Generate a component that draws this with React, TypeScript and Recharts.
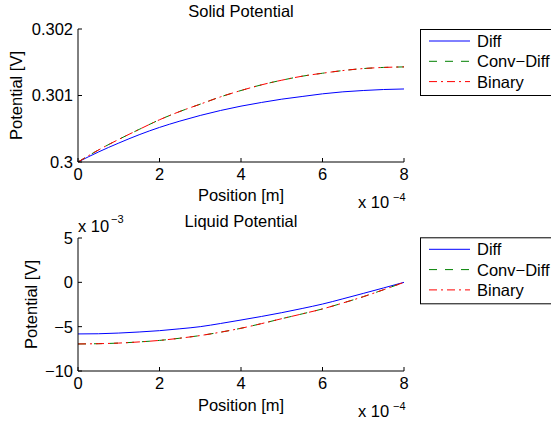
import React from "react";
import { LineChart, Line, XAxis, YAxis } from "recharts";

// position, in units of 1e-4 m
const positions = [0, 0.5, 1, 1.5, 2, 2.5, 3, 3.5, 4, 4.5, 5, 5.5, 6, 6.5, 7, 7.5, 8];

// solid potential [V]
const solidDiff = [
  0.3, 0.30015, 0.300285, 0.30041, 0.30052, 0.300615, 0.3007, 0.300775, 0.30084,
  0.300895, 0.300945, 0.300985, 0.301025, 0.301055, 0.301075, 0.30109, 0.301098,
];
const solidConvDiff = [
  0.3, 0.30018, 0.30034, 0.30049, 0.300635, 0.30076, 0.30087, 0.30098, 0.301075,
  0.30116, 0.30123, 0.30129, 0.301335, 0.301375, 0.301405, 0.301422, 0.30143,
];
const solidBinary = [
  0.3, 0.30018, 0.30034, 0.30049, 0.300635, 0.30076, 0.30087, 0.30098, 0.301075,
  0.30116, 0.30123, 0.30129, 0.301335, 0.301375, 0.301405, 0.301422, 0.30143,
];

// liquid potential, in units of 1e-3 V
const liquidDiff = [
  -5.82, -5.8, -5.72, -5.6, -5.45, -5.24, -5.0, -4.64, -4.25,
  -3.85, -3.42, -2.95, -2.45, -1.86, -1.25, -0.63, 0,
];
const liquidConvDiff = [
  -6.95, -6.92, -6.85, -6.72, -6.55, -6.3, -6.0, -5.62, -5.18,
  -4.66, -4.1, -3.56, -3.0, -2.33, -1.62, -0.83, 0,
];
const liquidBinary = [
  -6.95, -6.92, -6.85, -6.72, -6.55, -6.3, -6.0, -5.62, -5.18,
  -4.66, -4.1, -3.56, -3.0, -2.33, -1.62, -0.83, 0,
];

const xTicks = [0, 2, 4, 6, 8];
const solidTicks = [0.3, 0.301, 0.302];
const liquidTicks = [-10, -5, 0, 5];

const seriesNames = ["Diff", "Conv\u2212Diff", "Binary"];
const seriesColors = ["#0000ff", "#008000", "#ff0000"];
const seriesDash = [undefined, "8 8", "8 4 2 4"];

const FONT = '"Liberation Sans", Arial, Helvetica, sans-serif';
const FS = 16.5;

const solidData = positions.map((x, i) => ({
  x,
  diff: solidDiff[i],
  conv: solidConvDiff[i],
  binary: solidBinary[i],
}));
const liquidData = positions.map((x, i) => ({
  x,
  diff: liquidDiff[i],
  conv: liquidConvDiff[i],
  binary: liquidBinary[i],
}));

const minus = (v: number) => String(v).replace("-", "\u2212");

const tickStyle = { fill: "#000", fontSize: FS, fontFamily: FONT };

function Panel({
  data,
  yDomain,
  yTicks,
  top,
}: {
  data: any[];
  yDomain: [number, number];
  yTicks: number[];
  top: number;
}) {
  return (
    <div style={{ position: "absolute", left: 0, top }}>
      <LineChart
        width={551}
        height={211}
        data={data}
        margin={{ top: 29, right: 147, bottom: 0, left: 0 }}
      >
        <XAxis
          dataKey="x"
          type="number"
          domain={[0, 8]}
          ticks={xTicks}
          height={49}
          tickSize={-4}
          tickMargin={10}
          tick={tickStyle}
          stroke="#000"
          tickLine={{ stroke: "#000" }}
        />
        <XAxis
          xAxisId="top"
          orientation="top"
          dataKey="x"
          type="number"
          domain={[0, 8]}
          ticks={xTicks}
          height={0}
          tickSize={-4}
          tick={false}
          stroke="#000"
          tickLine={{ stroke: "#000" }}
        />
        <YAxis
          type="number"
          domain={yDomain}
          ticks={yTicks}
          width={78}
          tickSize={-4}
          tickMargin={9}
          tick={tickStyle}
          tickFormatter={minus}
          stroke="#000"
          tickLine={{ stroke: "#000" }}
          allowDataOverflow
        />
        <YAxis
          yAxisId="right"
          orientation="right"
          type="number"
          domain={yDomain}
          ticks={yTicks}
          width={0}
          tickSize={-4}
          tick={false}
          stroke="#000"
          tickLine={{ stroke: "#000" }}
        />
        {["diff", "conv", "binary"].map((key, i) => (
          <Line
            key={key}
            dataKey={key}
            type="monotone"
            stroke={seriesColors[i]}
            strokeWidth={1}
            strokeDasharray={seriesDash[i]}
            dot={false}
            isAnimationActive={false}
          />
        ))}
      </LineChart>
    </div>
  );
}

function LegendBox({ top }: { top: number }) {
  return (
    <g>
      <rect x={420.5} y={top + 0.5} width={140} height={66} fill="#fff" stroke="#000" strokeWidth={1} />
      {seriesNames.map((name, i) => {
        const y = top + 12 + i * 20.3;
        return (
          <g key={name}>
            <line
              x1={429}
              x2={470}
              y1={y}
              y2={y}
              stroke={seriesColors[i]}
              strokeWidth={1}
              strokeDasharray={seriesDash[i]}
            />
            <text x={477} y={y + 6} fontSize={FS} fontFamily={FONT} fill="#000">
              {name}
            </text>
          </g>
        );
      })}
    </g>
  );
}

export default function App() {
  const txt = { fontFamily: FONT, fill: "#000" };
  return (
    <div
      style={{
        position: "absolute",
        left: 0,
        top: 0,
        width: 551,
        height: 423,
        background: "#fff",
        overflow: "hidden",
        fontFamily: FONT,
      }}
    >
      <Panel data={solidData} yDomain={[0.3, 0.302]} yTicks={solidTicks} top={0} />
      <Panel data={liquidData} yDomain={[-10, 5]} yTicks={liquidTicks} top={209} />
      <svg
        width={551}
        height={423}
        style={{ position: "absolute", left: 0, top: 0, pointerEvents: "none" }}
      >
        <text x={241} y={16.8} textAnchor="middle" fontSize={FS} {...txt}>
          Solid Potential
        </text>
        <text x={241} y={226.5} textAnchor="middle" fontSize={FS} {...txt}>
          Liquid Potential
        </text>
        <text x={241} y={201} textAnchor="middle" fontSize={FS} {...txt}>
          Position [m]
        </text>
        <text x={241} y={410.5} textAnchor="middle" fontSize={FS} {...txt}>
          Position [m]
        </text>
        <text
          transform="translate(22,95.5) rotate(-90)"
          textAnchor="middle"
          fontSize={FS}
          {...txt}
        >
          Potential [V]
        </text>
        <text
          transform="translate(37,304.5) rotate(-90)"
          textAnchor="middle"
          fontSize={FS}
          {...txt}
        >
          Potential [V]
        </text>
        <text x={358} y={208} fontSize={FS} {...txt}>x 10</text>
        <text x={393} y={201} fontSize={11} {...txt}>{"\u22124"}</text>
        <text x={358} y={417} fontSize={FS} {...txt}>x 10</text>
        <text x={393} y={410} fontSize={11} {...txt}>{"\u22124"}</text>
        <text x={78} y={231.5} fontSize={FS} {...txt}>x 10</text>
        <text x={111} y={223} fontSize={11} {...txt}>{"\u22123"}</text>
        <LegendBox top={29} />
        <LegendBox top={237.3} />
      </svg>
    </div>
  );
}
